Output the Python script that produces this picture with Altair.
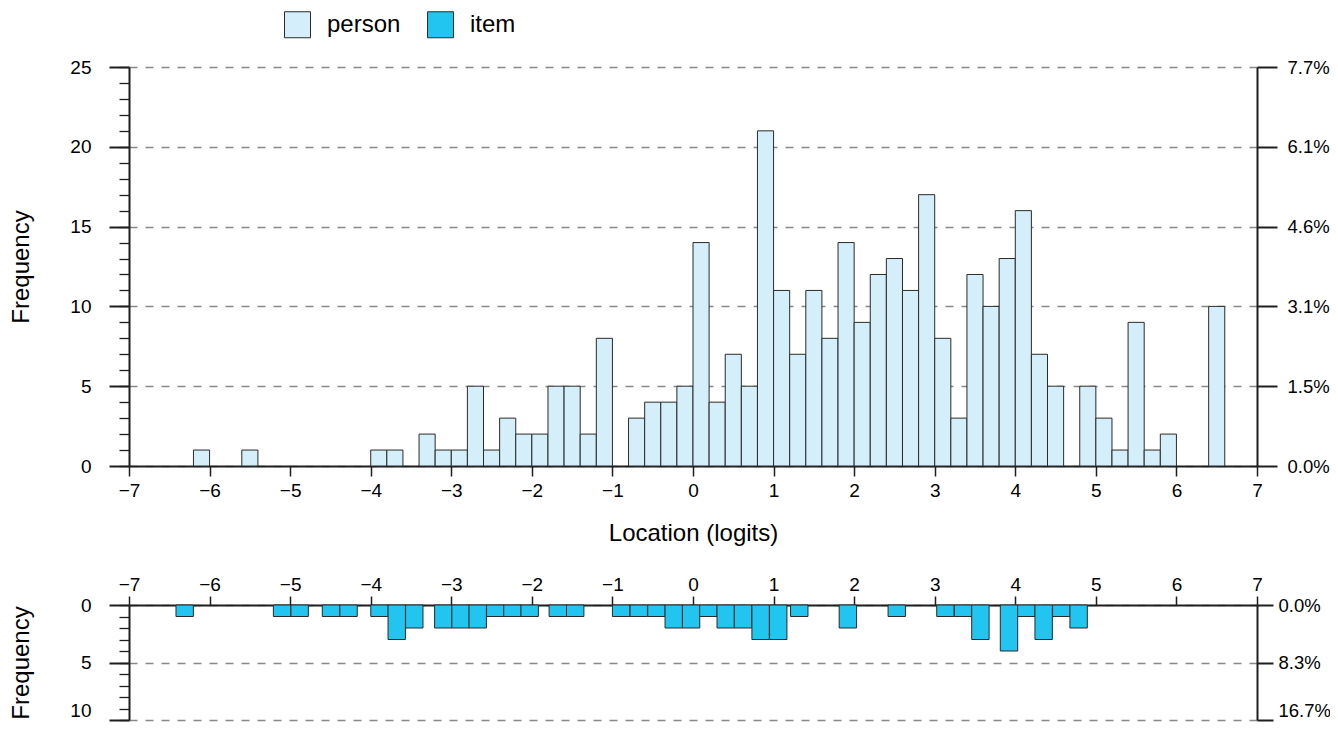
import altair as alt
import pandas as pd

# ---------------- data ----------------
X_MIN, X_MAX = -7, 7
PERSON_BIN_W = 0.2
# person counts for bins of width 0.2 from -7 to 7 (70 bins)
person_counts = [0, 0, 0, 0, 1, 0, 0, 1, 0, 0,
                 0, 0, 0, 0, 0, 1, 1, 0, 2, 1,
                 1, 5, 1, 3, 2, 2, 5, 5, 2, 8,
                 0, 3, 4, 4, 5, 14, 4, 7, 5, 21,
                 11, 7, 11, 8, 14, 9, 12, 13, 11, 17,
                 8, 3, 12, 10, 13, 16, 7, 5, 0, 5,
                 3, 1, 9, 1, 2, 0, 0, 10, 0, 0]

ITEM_BIN_W = 0.216
item_starts = [-6.417, -5.208, -4.990, -4.601, -4.383, -3.999, -3.785, -3.567,
               -3.207, -2.993, -2.780, -2.562, -2.349, -2.135, -1.786, -1.570,
               -1.000, -0.781, -0.562, -0.347, -0.132, 0.083, 0.298, 0.512,
               0.731, 0.950, 1.211, 1.814, 2.421, 3.025, 3.244, 3.459,
               3.814, 4.029, 4.244, 4.463, 4.678]
item_counts = [1, 1, 1, 1, 1, 1, 3, 2,
               2, 2, 2, 1, 1, 1, 1, 1,
               1, 1, 1, 2, 2, 1, 2, 2,
               3, 3, 1, 2, 1, 1, 1, 3,
               4, 1, 3, 1, 2]

x_ticks = list(range(-7, 8))
top_major = [0, 5, 10, 15, 20, 25]
top_minor = list(range(0, 26))
bot_major = [0, 5, 10]
bot_minor = list(range(0, 11))

N_PERSON = sum(person_counts)
N_ITEM = sum(item_counts)

person_df = pd.DataFrame({
    "start": [X_MIN + PERSON_BIN_W * i for i in range(len(person_counts))],
    "count": person_counts,
})
person_df["end"] = person_df["start"] + PERSON_BIN_W
person_df["base"] = 0
person_df["group"] = "person"
person_df = person_df[person_df["count"] > 0]

item_df = pd.DataFrame({"start": item_starts, "count": item_counts})
item_df["end"] = item_df["start"] + ITEM_BIN_W
item_df["base"] = 0
item_df["group"] = "item"

# ---------------- style ----------------
FONT = "Liberation Sans"
PERSON_FILL = "#d4eefa"
ITEM_FILL = "#22c4f0"
STROKE = "#2a2a2a"
AX = "#1e1e1e"
TICK_FS = 19
RIGHT_FS = 18.5
TITLE_FS = 24

x_scale = alt.Scale(domain=[X_MIN, X_MAX], nice=False, zero=False)
fill_scale = alt.Scale(domain=["person", "item"], range=[PERSON_FILL, ITEM_FILL])
legend = alt.Legend(title=None, orient="none", legendX=155, legendY=-56,
                    direction="horizontal", symbolType="square", symbolSize=676,
                    symbolStrokeColor=STROKE, symbolStrokeWidth=1, symbolOpacity=1,
                    labelFontSize=TITLE_FS, labelFont=FONT, labelColor="black",
                    labelOffset=16, columnPadding=24, padding=0)

yt_scale = alt.Scale(domain=[0, 25], nice=False, zero=True)
yb_scale = alt.Scale(domain=[0, 10], nice=False, zero=True, reverse=True)

last_label_baseline = {"condition": {"test": "datum.value === 10", "value": "bottom"},
                       "value": "middle"}


def pct_expr(n):
    return f"format(datum.value / {n} * 100, '.1f') + '%'"


# ---------------- top (person) ----------------
top_bars = alt.Chart(person_df).mark_bar(stroke=STROKE, strokeWidth=1).encode(
    x=alt.X("start:Q", scale=x_scale,
            axis=alt.Axis(orient="bottom", values=x_ticks, tickSize=10, tickWidth=1.5,
                          labelPadding=5, labelFlush=False, grid=False,
                          title="Location (logits)", titlePadding=21)),
    x2="end:Q",
    y=alt.Y("count:Q", scale=yt_scale,
            axis=alt.Axis(orient="left", values=top_major, tickSize=20, tickWidth=2,
                          labelPadding=18, grid=True, gridDash=[8, 8], gridColor="#888888",
                          gridWidth=1.5, title="Frequency", titlePadding=36)),
    y2="base:Q",
    fill=alt.Fill("group:N", scale=fill_scale, legend=legend),
)
top_minor_ax = alt.Chart(person_df).mark_point(opacity=0).encode(
    y=alt.Y("count:Q", scale=yt_scale,
            axis=alt.Axis(orient="left", values=top_minor, tickSize=10, tickWidth=1.3,
                          labels=False, domain=False, grid=False, title=None)),
)
top_right_ax = alt.Chart(person_df).mark_point(opacity=0).encode(
    y=alt.Y("count:Q", scale=yt_scale,
            axis=alt.Axis(orient="right", values=top_major, tickSize=20, tickWidth=2,
                          labelPadding=10, labelFontSize=RIGHT_FS,
                          labelExpr=pct_expr(N_PERSON), grid=False, title=None)),
)
top = alt.layer(top_bars, top_minor_ax, top_right_ax).resolve_axis(
    y="independent").properties(width=1128, height=399)

# ---------------- bottom (item) ----------------
bot_bars = alt.Chart(item_df).mark_bar(stroke=STROKE, strokeWidth=1).encode(
    x=alt.X("start:Q", scale=x_scale,
            axis=alt.Axis(orient="top", values=x_ticks, tickSize=9, tickWidth=1.5,
                          labelPadding=2, labelFlush=False, grid=False, title=None)),
    x2="end:Q",
    y=alt.Y("count:Q", scale=yb_scale,
            axis=alt.Axis(orient="left", values=bot_major, tickSize=20, tickWidth=2,
                          labelPadding=18, labelBaseline=last_label_baseline,
                          grid=True, gridDash=[8, 8], gridColor="#888888",
                          gridWidth=1.5, title="Frequency", titlePadding=36)),
    y2="base:Q",
    fill=alt.Fill("group:N", scale=fill_scale, legend=legend),
)
bot_minor_ax = alt.Chart(item_df).mark_point(opacity=0).encode(
    y=alt.Y("count:Q", scale=yb_scale,
            axis=alt.Axis(orient="left", values=bot_minor, tickSize=10, tickWidth=1.3,
                          labels=False, domain=False, grid=False, title=None)),
)
bot_right_ax = alt.Chart(item_df).mark_point(opacity=0).encode(
    y=alt.Y("count:Q", scale=yb_scale,
            axis=alt.Axis(orient="right", values=bot_major, tickSize=16, tickWidth=2,
                          labelPadding=5, labelFontSize=RIGHT_FS,
                          labelBaseline=last_label_baseline,
                          labelExpr=pct_expr(N_ITEM), grid=False, title=None)),
)
bottom = alt.layer(bot_bars, bot_minor_ax, bot_right_ax).resolve_axis(
    y="independent").properties(width=1128, height=115)

chart = alt.vconcat(top, bottom, spacing=139, bounds="flush").properties(
    padding={"left": 1, "top": 3, "right": -1, "bottom": 1}
).configure_view(stroke=None).configure_axis(
    labelFont=FONT, titleFont=FONT, labelFontSize=TICK_FS, titleFontSize=TITLE_FS,
    titleFontWeight="normal", labelColor="black", titleColor="black",
    domainColor=AX, domainWidth=2, tickColor=AX,
).configure_legend(labelFont=FONT)

chart.save("out.html", embed_options={"renderer": "svg", "actions": False})
